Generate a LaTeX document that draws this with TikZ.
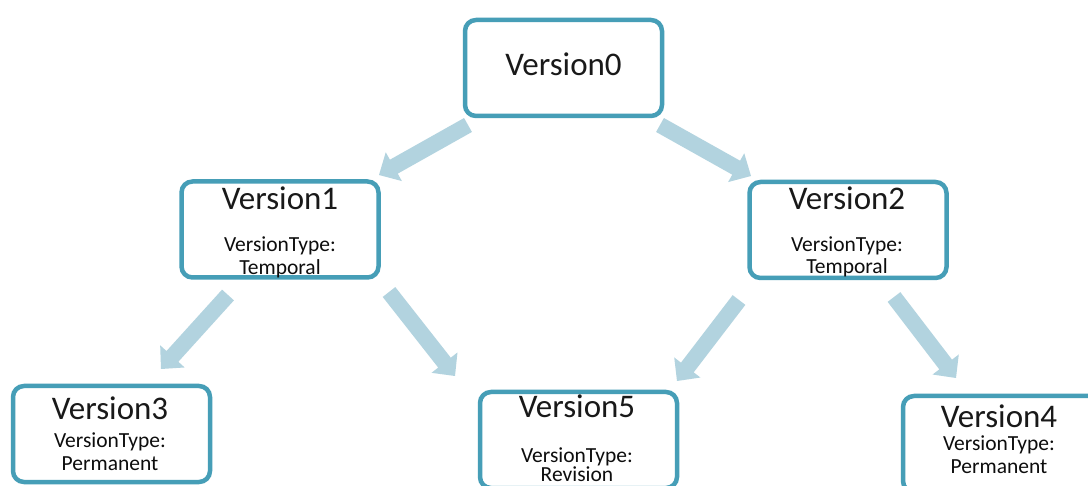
\documentclass[tikz,border=0pt]{standalone}
\usepackage{fontspec}
\setmainfont{Carlito}
\usetikzlibrary{calc}
\definecolor{boxc}{RGB}{70,158,183}
\definecolor{arrc}{RGB}{178,211,223}
\tikzset{
  vbox/.style={draw=boxc, line width=4.5pt, rounded corners=11pt, fill=white,
    minimum width=197pt, minimum height=96pt, inner sep=0pt},
  vtitle/.style={anchor=base, font=\fontsize{33}{33}\selectfont, inner sep=0pt, text=black!90},
  vsub/.style={anchor=base, font=\fontsize{21.5}{22}\selectfont, inner sep=0pt, text=black!95},
}
\newcommand{\blockarrow}[2]{%
  \coordinate (h) at ($(#2)!17pt!(#1)$);
  \fill[arrc] ($(#1)!8pt!90:(#2)$) -- ($(h)!8pt!90:(#2)$) -- ($(h)!16.5pt!90:(#2)$)
    -- (#2) -- ($(h)!16.5pt!-90:(#2)$) -- ($(h)!8pt!-90:(#2)$) -- ($(#1)!8pt!-90:(#2)$) -- cycle;}
\begin{document}
\begin{tikzpicture}[x=1pt,y=-1pt]
\path[use as bounding box] (0,0) rectangle (1088,486);
\clip (0,0) rectangle (1088,486);
\fill[white] (0,0) rectangle (1088,486);

% boxes
\node[vbox] (v0) at (563.5,68) {};
\node[vbox] (v1) at (280,229.5) {};
\node[vbox] (v2) at (848,230) {};
\node[vbox] (v3) at (111.5,434) {};
\node[vbox] (v5) at (578.5,440) {};
\node[vbox] (v4) at (1001.5,444) {};

% texts
\node[vtitle] (t0) at (563.5,76) {Version0};
\node[vtitle] (t1) at (280,210) {Version1};
\node[vsub] (t1a) at (280,252) {VersionType:};
\node[vsub] (t1b) at (280,275) {Temporal};
\node[vtitle] (t2) at (847,210) {Version2};
\node[vsub] (t2a) at (847,252) {VersionType:};
\node[vsub] (t2b) at (847,274) {Temporal};
\node[vtitle] (t3) at (110,420) {Version3};
\node[vsub] (t3a) at (110,447) {VersionType:};
\node[vsub] (t3b) at (110,471) {Permanent};
\node[vtitle] (t5) at (577,418) {Version5};
\node[vsub] (t5a) at (577,462) {VersionType:};
\node[vsub] (t5b) at (577,482) {Revision};
\node[vtitle] (t4) at (999,428) {Version4};
\node[vsub] (t4a) at (999,451) {VersionType:};
\node[vsub] (t4b) at (999,474) {Permanent};

% arrow ends
\coordinate (a01s) at (468,125); \coordinate (a01e) at (379,175);
\coordinate (a02s) at (660,125); \coordinate (a02e) at (751,176);
\coordinate (a13s) at (228,295); \coordinate (a13e) at (161,369);
\coordinate (a15s) at (389,292); \coordinate (a15e) at (455,376);
\coordinate (a25s) at (739,300); \coordinate (a25e) at (677,381);
\coordinate (a24s) at (894,297); \coordinate (a24e) at (956,378);

\blockarrow{a01s}{a01e}
\blockarrow{a02s}{a02e}
\blockarrow{a13s}{a13e}
\blockarrow{a15s}{a15e}
\blockarrow{a25s}{a25e}
\blockarrow{a24s}{a24e}
\end{tikzpicture}
\end{document}
